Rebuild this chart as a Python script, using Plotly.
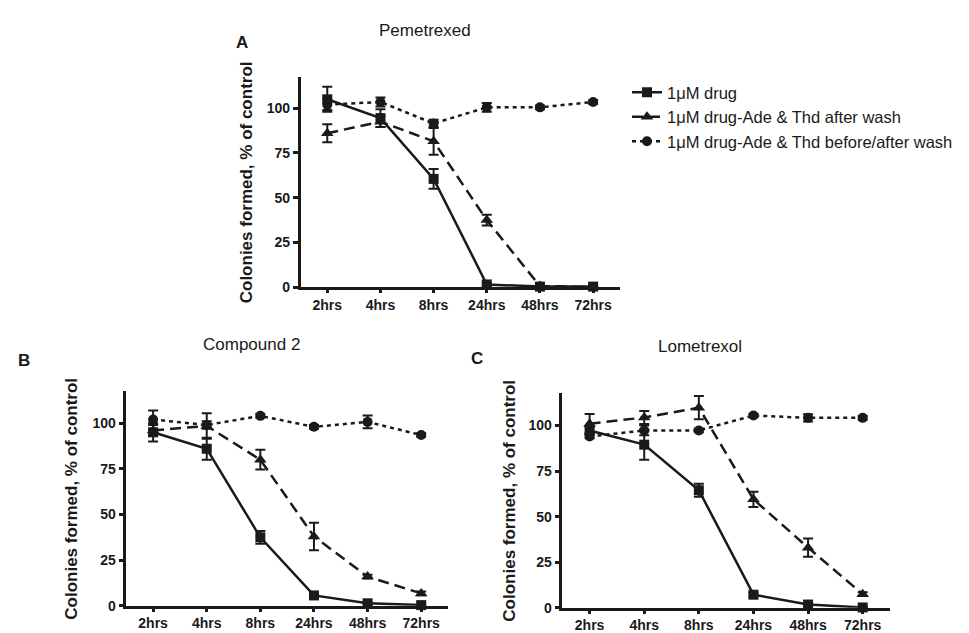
import plotly.graph_objects as go

W, H = 969, 633

times = ["2hrs", "4hrs", "8hrs", "24hrs", "48hrs", "72hrs"]
series_names = [
    "1\u03bcM drug",
    "1\u03bcM drug-Ade & Thd after wash",
    "1\u03bcM drug-Ade & Thd before/after wash",
]

# Panel A: Pemetrexed
pem_drug = [105, 94.5, 60.5, 1.5, 0.3, 0.3]
pem_drug_err = [7, 5, 5.5, 1, 0.5, 0.5]
pem_after = [86, 92.5, 81.5, 37.5, 0.6, 0]
pem_after_err = [5, 3, 7.5, 3, 0.5, 0.5]
pem_before = [102, 103.5, 91.5, 100.5, 100.5, 103.5]
pem_before_err = [3, 2.5, 2, 2.5, 1, 1]

# Panel B: Compound 2
c2_drug = [95, 86, 37.5, 5.7, 1.4, 0.4]
c2_drug_err = [5, 6, 3.5, 1, 0.5, 0.5]
c2_after = [96, 98.5, 80, 38, 16, 6.8]
c2_after_err = [3, 7, 5.4, 7.5, 1, 1]
c2_before = [102, 99, 104, 98, 100.7, 93.5]
c2_before_err = [5, 2, 1, 1, 3.5, 1]

# Panel C: Lometrexol
lom_drug = [97.3, 89.5, 64.5, 7.2, 1.8, 0.2]
lom_drug_err = [2, 8.3, 3.6, 1, 0.5, 0.5]
lom_after = [101, 104.4, 109.8, 59.5, 33, 7.5]
lom_after_err = [5.3, 3.6, 6.4, 4.2, 5, 1]
lom_before = [94, 97.3, 97.3, 105.5, 104.2, 104.2]
lom_before_err = [1, 2.7, 1, 1, 2, 1]

panel_titles = ["Pemetrexed", "Compound 2", "Lometrexol"]
panel_letters = ["A", "B", "C"]
y_title = "Colonies formed, % of control"
y_ticks = [0, 25, 50, 75, 100]

FONT = "Liberation Sans, Arial, Helvetica, sans-serif"
BLACK = "#1a1a1a"

panels = [
    (pem_drug, pem_drug_err, pem_after, pem_after_err, pem_before, pem_before_err),
    (c2_drug, c2_drug_err, c2_after, c2_after_err, c2_before, c2_before_err),
    (lom_drug, lom_drug_err, lom_after, lom_after_err, lom_before, lom_before_err),
]

styles = [
    dict(dash="solid", symbol="square", size=10),
    dict(dash="11px,6px", symbol="triangle-up", size=11),
    dict(dash="4px,4px", symbol="circle", size=10),
]

# pixel boxes (left, right, top, bottom) for each panel
boxes = [
    (292.7, 611.7, 70, 282.7),
    (118.3, 440.0, 388.3, 605.5),
    (554.3, 882.0, 390.0, 607.5),
]
yranges = [117.4, 117.4, 117.8]

fig = go.Figure()
layout = {}
for p, (vals, box, ymax) in enumerate(zip(panels, boxes, yranges)):
    sfx = "" if p == 0 else str(p + 1)
    xa, ya = "x" + sfx, "y" + sfx
    for s in range(3):
        yv, ev = vals[2 * s], vals[2 * s + 1]
        st = styles[s]
        fig.add_trace(go.Scatter(
            x=times, y=yv, xaxis=xa, yaxis=ya,
            name=series_names[s], showlegend=(p == 0),
            mode="lines+markers", cliponaxis=False,
            line=dict(color=BLACK, width=2.5, dash=st["dash"]),
            marker=dict(symbol=st["symbol"], size=st["size"], color=BLACK),
            error_y=dict(type="data", array=ev, visible=True,
                         color=BLACK, thickness=2, width=5),
        ))
    l, r, t, b = box
    layout["xaxis" + sfx] = dict(
        domain=[l / W, r / W], anchor=ya, type="category",
        categoryorder="array", categoryarray=times,
        range=[-0.5, 5.5], showline=True, linewidth=2.5, linecolor=BLACK,
        ticks="outside", ticklen=3, tickwidth=2.5, tickcolor=BLACK,
        showgrid=False, zeroline=False,
        tickfont=dict(family=FONT, size=14, color=BLACK, weight="bold"),
    )
    layout["yaxis" + sfx] = dict(
        domain=[1 - b / H, 1 - t / H], anchor=xa,
        range=[0, ymax], tickvals=y_ticks,
        showline=True, linewidth=2.5, linecolor=BLACK,
        ticks="outside", ticklen=5, tickwidth=2.5, tickcolor=BLACK,
        showgrid=False, zeroline=False,
        tickfont=dict(family=FONT, size=14, color=BLACK, weight="bold"),
    )

title_pos = [(417, 23), (243, 341), (692, 343)]
letter_pos = [(234, 35), (16, 357), (469, 355)]
ytitle_pos = [(238, 176.5), (64, 497.0), (502, 499.0)]

annotations = []
for i in range(3):
    tx, ty = title_pos[i]
    annotations.append(dict(text=panel_titles[i], x=tx / W, y=1 - ty / H,
                            xref="paper", yref="paper", showarrow=False,
                            xanchor="center", yanchor="middle",
                            font=dict(family=FONT, size=17, color=BLACK)))
    lx, ly = letter_pos[i]
    annotations.append(dict(text=panel_letters[i], x=lx / W, y=1 - ly / H,
                            xref="paper", yref="paper", showarrow=False,
                            xanchor="center", yanchor="middle",
                            font=dict(family=FONT, size=17, color=BLACK, weight="bold")))
    yx, yy = ytitle_pos[i]
    annotations.append(dict(text=y_title, x=yx / W, y=1 - yy / H,
                            xref="paper", yref="paper", showarrow=False,
                            textangle=-90, xanchor="center", yanchor="middle",
                            font=dict(family=FONT, size=17, color=BLACK, weight="bold")))

fig.update_layout(
    width=W, height=H,
    margin=dict(l=0, r=0, t=0, b=0),
    paper_bgcolor="white", plot_bgcolor="white",
    font=dict(family=FONT, color=BLACK),
    showlegend=True,
    legend=dict(x=619 / W, y=1 - 68 / H, xanchor="left", yanchor="top",
                bgcolor="rgba(0,0,0,0)", font=dict(family=FONT, size=16.5, color=BLACK)),
    annotations=annotations,
    **layout,
)

fig.write_html("out.html")
